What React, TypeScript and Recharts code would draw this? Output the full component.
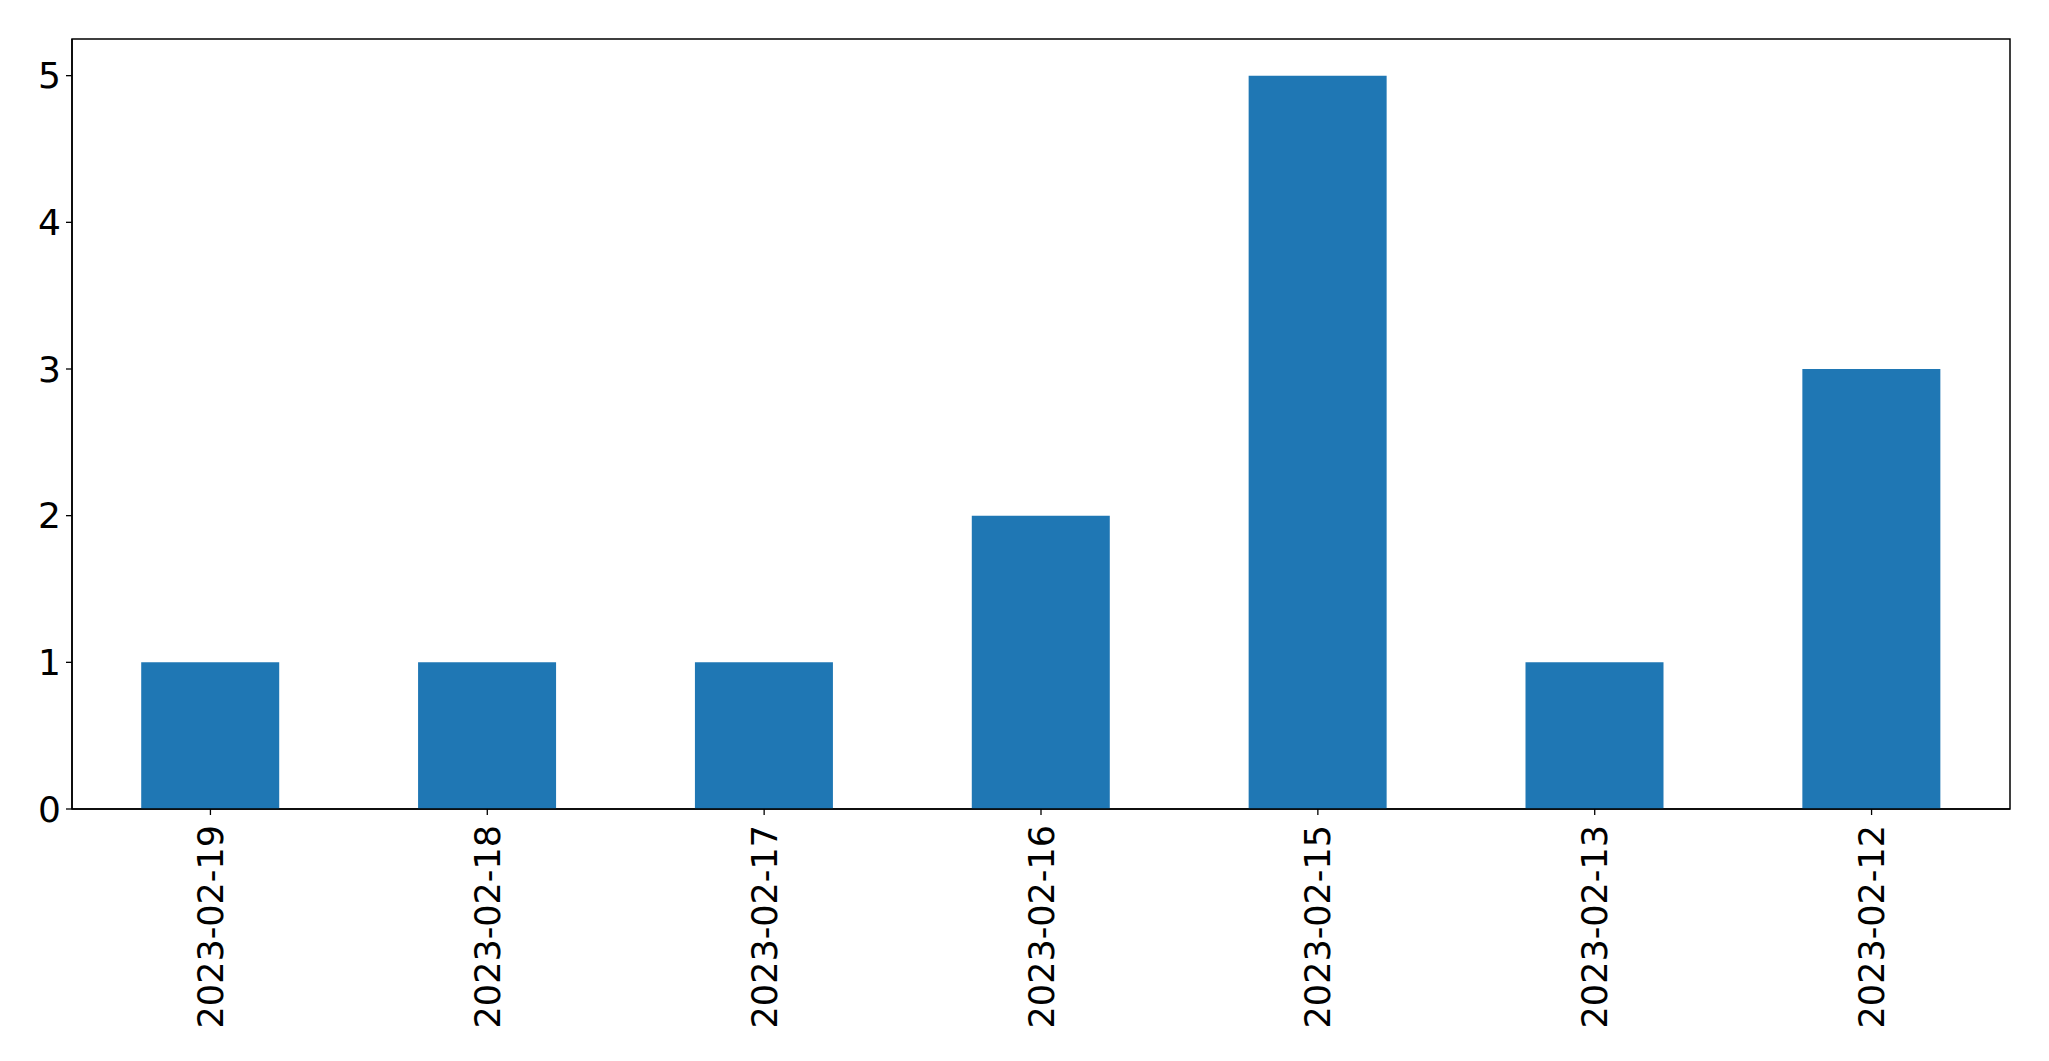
import { BarChart, Bar, XAxis, YAxis, ReferenceArea } from 'recharts';

const dates = ['2023-02-19', '2023-02-18', '2023-02-17', '2023-02-16', '2023-02-15', '2023-02-13', '2023-02-12'];
const counts = [1, 1, 1, 2, 5, 1, 3];
const yTicks = [0, 1, 2, 3, 4, 5];

const data = dates.map((date, i) => ({ date, count: counts[i] }));

const FONT = '"DejaVu Sans", sans-serif';

function DateTick(props: any) {
  const { x, y, payload } = props;
  return (
    <g transform={`translate(${x},${y})`}>
      <text
        transform="rotate(-90)"
        textAnchor="end"
        dy="0.36em"
        fill="#000"
        fontSize={35}
        fontFamily={FONT}
      >
        {payload.value}
      </text>
    </g>
  );
}

export default function App() {
  return (
    <div style={{ position: 'absolute', left: 0, top: 0, background: '#fff' }}>
      <BarChart
        width={2049}
        height={1061}
        data={data}
        margin={{ top: 39, right: 39, left: 0, bottom: 0 }}
        barCategoryGap="25%"
      >
        <XAxis
          dataKey="date"
          height={252}
          tick={<DateTick />}
          tickSize={6}
          tickMargin={10}
          stroke="#000"
          strokeWidth={1.5}
          tickLine={{ stroke: '#000', strokeWidth: 1.3 }}
          interval={0}
        />
        <YAxis
          width={72}
          domain={[0, 5.25]}
          ticks={yTicks}
          tickSize={6}
          tickMargin={5}
          stroke="#000"
          strokeWidth={1.5}
          tick={{ fill: '#000', fontSize: 36, fontFamily: FONT }}
          tickLine={{ stroke: '#000', strokeWidth: 1.3 }}
        />
        <ReferenceArea y1={0} y2={5.25} fill="none" fillOpacity={0} stroke="#000" strokeWidth={1.5} ifOverflow="visible" />
        <Bar dataKey="count" fill="#1f77b4" isAnimationActive={false} />
      </BarChart>
    </div>
  );
}
